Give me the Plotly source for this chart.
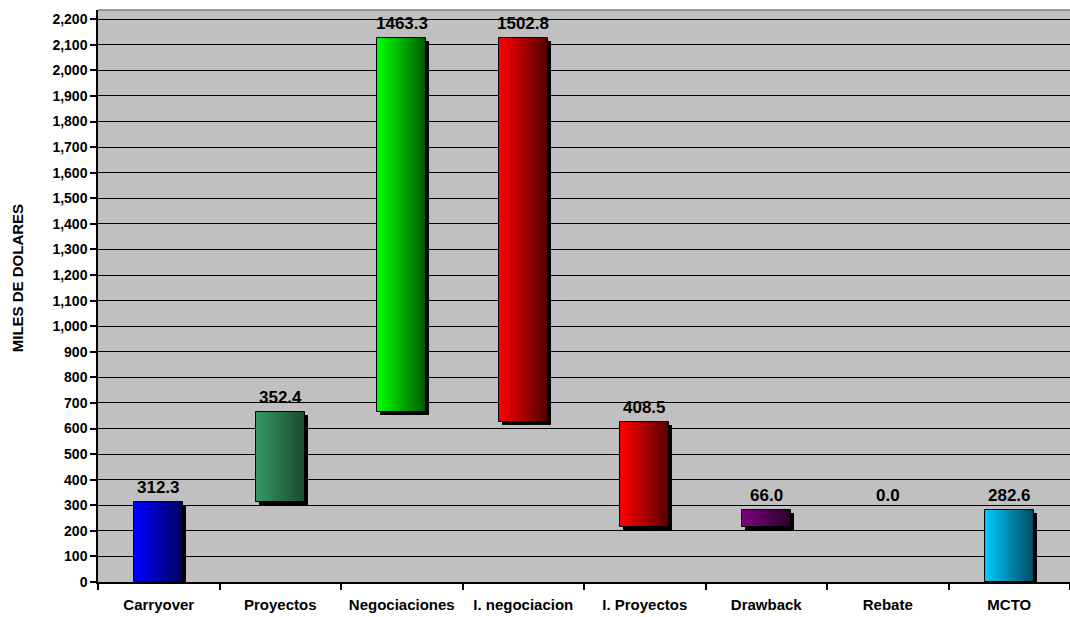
import numpy as np
import plotly.graph_objects as go

categories = ["Carryover", "Proyectos", "Negociaciones", "I. negociacion",
              "I. Proyectos", "Drawback", "Rebate", "MCTO"]
values = [312.3, 352.4, 1463.3, -1502.8, -408.5, 66.0, 0.0, 282.6]
measures = ["absolute", "relative", "relative", "relative",
            "relative", "relative", "relative", "total"]
labels = ["312.3", "352.4", "1463.3", "1502.8", "408.5", "66.0", "0.0", "282.6"]
y_ticks = list(range(0, 2201, 100))

# gradient colours (left -> right) for each bar
light = ["#0000FF", "#339966", "#00FF00", "#FF0000", "#FF0000", "#800080", "#808080", "#00CCFF"]
dark = ["#00005A", "#1A4A30", "#005A00", "#500000", "#500000", "#2A002A", "#303030", "#004A60"]

# waterfall geometry
bases, tops = [], []
running = 0.0
for v, m in zip(values, measures):
    if m == "absolute":
        start, end = 0.0, v
        running = v
    elif m == "total":
        start, end = 0.0, v
    else:
        start, end = running, running + v
        running = end
    bases.append(min(start, end))
    tops.append(max(start, end))
heights = [t - b for t, b in zip(tops, bases)]
heights_plot = [h if h > 0 else None for h in heights]


def hex2rgb(h):
    h = h.lstrip("#")
    return np.array([int(h[i:i + 2], 16) for i in (0, 2, 4)], dtype=float)


def mix(c0, c1, t):
    c = hex2rgb(c0) * (1 - t) + hex2rgb(c1) * t
    return "rgb(%d,%d,%d)" % tuple(np.round(c).astype(int))


BW = 0.40
N = 24
fig = go.Figure()

# shadow
px_x = 1.0 / 121.0 * 3
px_y = 2236 / 572.0 * 3
fig.add_trace(go.Bar(
    x=categories, y=heights_plot, base=[b - px_y for b in bases],
    width=BW, offset=-BW / 2 + px_x,
    marker=dict(color="black", line=dict(width=0)),
    hoverinfo="skip", showlegend=False))

# gradient strips
sw = BW / N
for k in range(N):
    t = (k + 0.5) / N
    cols = [mix(light[i], dark[i], t) for i in range(len(categories))]
    fig.add_trace(go.Bar(
        x=categories, y=heights_plot, base=bases,
        width=sw * 1.08, offset=-BW / 2 + k * sw,
        marker=dict(color=cols, line=dict(width=0)),
        hoverinfo="skip", showlegend=False))

# outline
fig.add_trace(go.Bar(
    x=categories, y=heights_plot, base=bases,
    width=BW, offset=-BW / 2,
    marker=dict(color="rgba(0,0,0,0)", line=dict(color="black", width=1)),
    hoverinfo="skip", showlegend=False))

# value labels
for cat, top, lab in zip(categories, tops, labels):
    fig.add_annotation(
        x=cat, y=top, text=lab, showarrow=False,
        xanchor="center", yanchor="bottom", yshift=3,
        font=dict(family="Liberation Sans", size=17, color="black", weight="bold"))

fig.update_layout(
    width=1070, height=617,
    margin=dict(l=98, r=0, t=10, b=35),
    paper_bgcolor="white", plot_bgcolor="#C0C0C0",
    barmode="overlay", bargap=0,
    font=dict(family="Liberation Sans", color="black"),
    showlegend=False,
)
fig.update_xaxes(
    type="category", showgrid=False, showline=True, linecolor="black", linewidth=1.5,
    ticks="outside", tickson="boundaries", ticklen=6, tickcolor="black", tickwidth=1.5,
    tickfont=dict(size=15, weight="bold"), ticklabelstandoff=8, zeroline=False,
)
fig.update_yaxes(
    range=[0, 2236], tickvals=y_ticks, tickformat=",",
    showgrid=True, gridcolor="black", gridwidth=1.2,
    showline=True, linecolor="black", linewidth=1.5,
    ticks="outside", ticklen=6, tickcolor="black", tickwidth=1.5,
    tickfont=dict(size=14, weight="bold"), zeroline=False,
)
fig.add_annotation(
    text="MILES DE DOLARES", textangle=-90, showarrow=False,
    xref="paper", yref="paper", x=0, xshift=-81, y=0.531,
    xanchor="center", yanchor="middle",
    font=dict(size=15, weight="bold", color="black"))
fig.add_shape(type="line", xref="paper", yref="paper", x0=0, x1=1, y0=1, y1=1,
              line=dict(color="#808080", width=1.5))

fig.write_html("out.html")
